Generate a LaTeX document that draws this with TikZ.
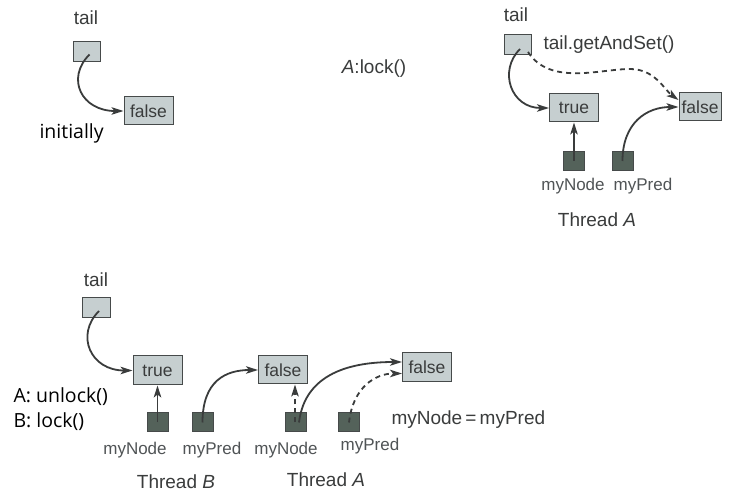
\documentclass[tikz,border=0pt]{standalone}
\usepackage{fontspec}
\setsansfont{Liberation Sans}
\newfontfamily\handfont{Open Sans}
\usetikzlibrary{arrows.meta, positioning}
\definecolor{CellFill}{RGB}{198, 207, 208}
\definecolor{CellLine}{RGB}{70, 74, 74}
\definecolor{PtrFill}{RGB}{84, 98, 90}
\definecolor{InkGrey}{RGB}{58, 60, 60}
\definecolor{LabelGrey}{RGB}{80, 84, 86}

\begin{document}
\begin{tikzpicture}[x=1pt, y=1pt, >={Stealth[length=12pt, width=7.5pt, inset=3pt]},
    every node/.style={font=\sffamily\fontsize{19}{22}\selectfont, text=InkGrey},
    cell/.style={draw=CellLine, fill=CellFill, line width=1pt, inner sep=0pt,
        minimum width=49pt, minimum height=28pt, font=\sffamily\fontsize{17.5}{20}\selectfont},
    tailcell/.style={draw=CellLine, fill=CellFill, line width=1pt, inner sep=0pt,
        minimum width=27pt, minimum height=20pt},
    ptr/.style={draw=CellLine, fill=PtrFill, line width=1pt, inner sep=0pt,
        minimum width=21pt, minimum height=19pt},
    varname/.style={font=\sffamily\fontsize{17}{20}\selectfont, text=LabelGrey},
    hand/.style={font=\handfont\fontsize{19.5}{22}\selectfont, text=black, anchor=west},
    link/.style={->, line width=1.8pt, draw=InkGrey},
    maybe/.style={link, dash pattern=on 5pt off 4pt}]
        \useasboundingbox[fill=white] (0,0) rectangle (740,493);

        % initially
        \node (tail1) [tailcell] at (86.5,441.5) {};
        \node (tail1lbl) at (86,475) {tail};
        \node (false1) [cell] at (148.5,382) {false};
        \node (init) [hand] at (36,360) {initially};
        \draw[link] ([shift={(3,-3)}]tail1.center) .. controls +(-24,-24) and +(-42,0) .. (false1.west);

        % A:lock()
        \node (lockA) at (374,424) {\textit{A}:lock()};
        \node (tail2) [tailcell] at (518,448) {};
        \node (tail2lbl) at (516,478) {tail};
        \node (gas) [anchor=west] at (540,448) {tail.getAndSet()};
        \node (true2) [cell] at (574,385) {true};
        \node (false2) [cell, minimum width=42pt] at (700,386) {false};
        \node (node2) [ptr] at (574,332) {};
        \node (pred2) [ptr] at (622.5,332) {};
        \node (node2lbl) [varname] at (573,307) {myNode};
        \node (pred2lbl) [varname] at (643,307) {myPred};
        \node (thrA1) at (597,273) {Thread \textit{A}};
        \draw[link] ([shift={(2,-4)}]tail2.center) .. controls +(-22,-22) and +(-38,0) .. (true2.west);
        \draw[maybe] ([shift={(10,-7)}]tail2.center) .. controls +(22,-34) and +(-30,0) .. (630,424)
            .. controls +(25,0) and +(-14,10) .. ([yshift=7]false2.west);
        \draw[link] (node2.center) -- (true2.south);
        \draw[link] (pred2.center) .. controls +(0,38) and +(-32,0) .. (false2.west);

        % A: unlock(), B: lock()
        \node (tail3) [tailcell, minimum width=28pt] at (96,185) {};
        \node (tail3lbl) at (96,213) {tail};
        \node (true3) [cell, minimum height=29pt] at (157.5,122.5) {true};
        \node (false3) [cell] at (283,123) {false};
        \node (false4) [cell, minimum height=29pt] at (427,125.5) {false};
        \node (nodeB) [ptr] at (157.5,70.5) {};
        \node (predB) [ptr] at (202.5,70.5) {};
        \node (nodeA) [ptr] at (296,70.5) {};
        \node (predA) [ptr] at (349,70.5) {};
        \node (nodeBlbl) [varname] at (135,43) {myNode};
        \node (predBlbl) [varname] at (212,43) {myPred};
        \node (nodeAlbl) [varname] at (286,43) {myNode};
        \node (predAlbl) [varname] at (370,47) {myPred};
        \node (thrB) at (176,11) {Thread \textit{B}};
        \node (thrA2) at (326,13) {Thread \textit{A}};
        \node (assign) [anchor=west] at (388,73) {myNode\,=\,myPred};
        \node (unlockA) [hand] at (10,96) {A: unlock()};
        \node (lockB) [hand] at (10,71) {B: lock()};
        \draw[link] ([shift={(3,-3)}]tail3.center) .. controls +(-24,-24) and +(-42,0) .. (true3.west);
        \draw[link] (nodeB.center) -- (true3.south);
        \draw[link] (predB.center) .. controls +(0,42) and +(-32,0) .. (false3.west);
        \draw[maybe] ([xshift=-1pt]nodeA.center) -- ([xshift=-1pt]nodeA.center |- false3.south);
        \draw[link] ([xshift=3pt]nodeA.center) .. controls +(6,50) and +(-50,0) .. ([yshift=5.5]false4.west);
        \draw[maybe] (predA.center) .. controls +(4,36) and +(-26,0) .. ([yshift=-6]false4.west);
    \end{tikzpicture}
\end{document}
